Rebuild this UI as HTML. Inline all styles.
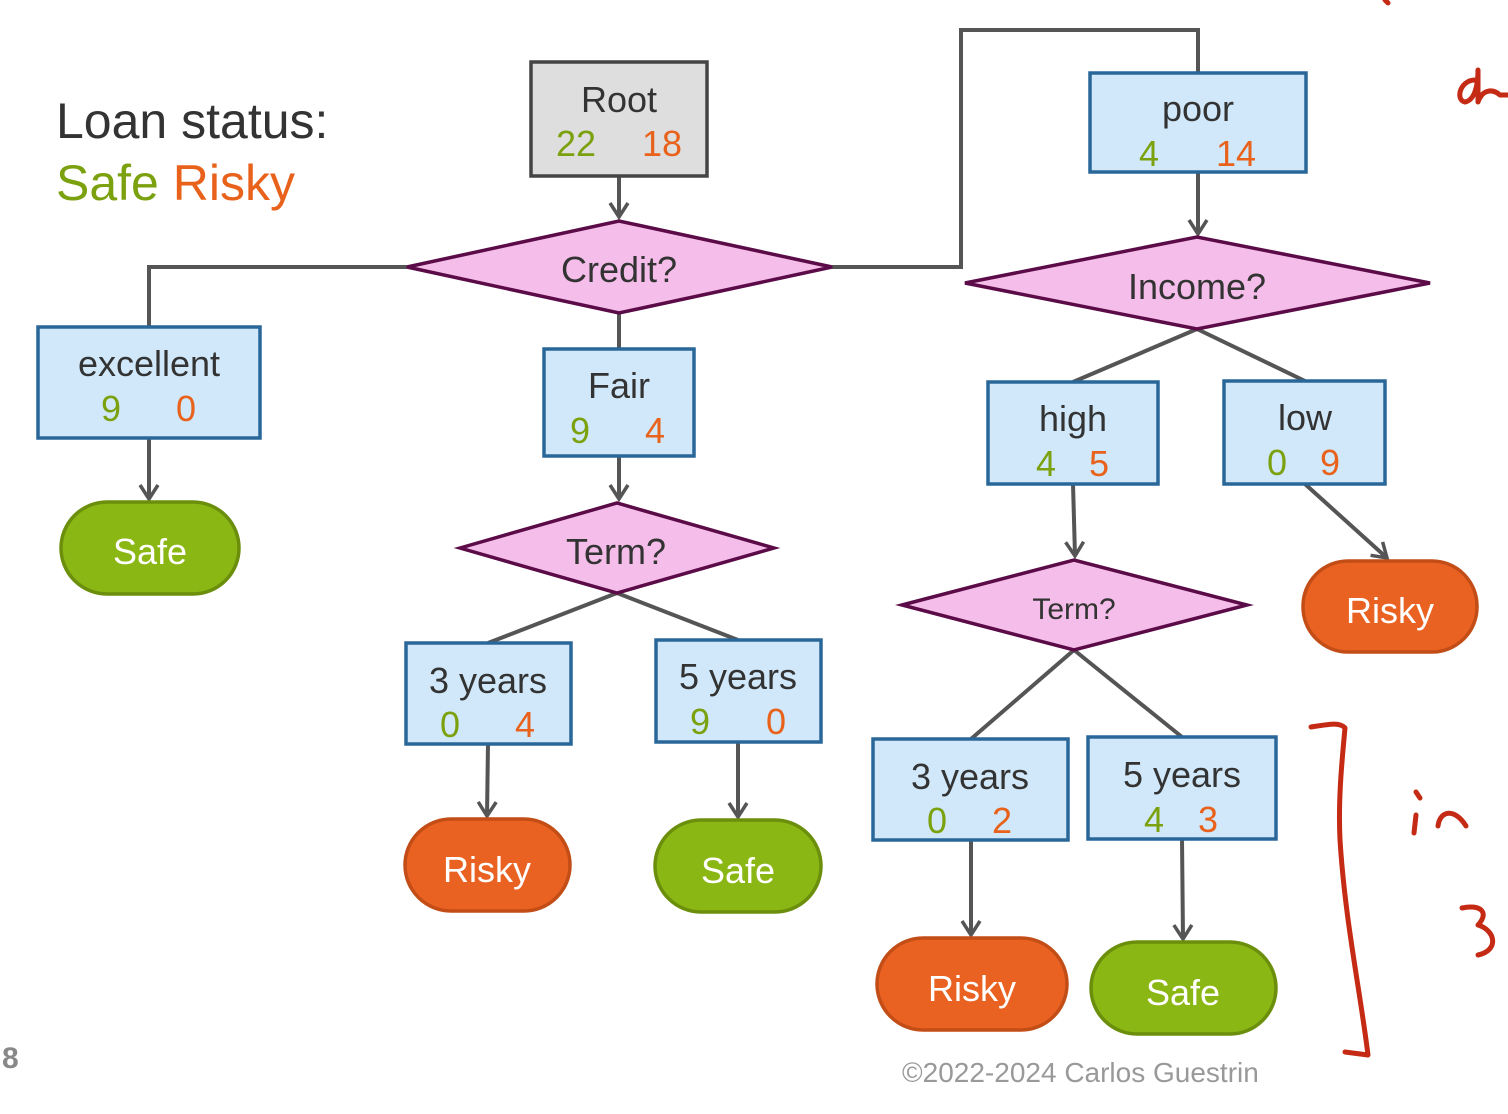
<!DOCTYPE html>
<html><head><meta charset="utf-8"><style>
html,body{margin:0;padding:0;background:#fff;}
svg{display:block;font-family:"Liberation Sans",sans-serif;}
</style></head><body>
<svg width="1508" height="1114" viewBox="0 0 1508 1114" xmlns="http://www.w3.org/2000/svg">
<defs>
<marker id="a" markerWidth="24" markerHeight="24" refX="20" refY="12" orient="auto" markerUnits="userSpaceOnUse">
<path d="M6,3 L20,12 L6,21" fill="none" stroke="#555" stroke-width="3.5"/>
</marker>
</defs>
<g stroke="#555" stroke-width="4" fill="none">
<line x1="619" y1="176" x2="619" y2="217" marker-end="url(#a)"/>
<polyline points="407,267 149,267 149,327"/>
<line x1="149" y1="438" x2="149" y2="499" marker-end="url(#a)"/>
<line x1="619" y1="313" x2="619" y2="349"/>
<line x1="619" y1="456" x2="619" y2="499" marker-end="url(#a)"/>
<polyline points="832,267 961,267 961,30 1198,30 1198,73"/>
<line x1="1198" y1="172" x2="1198" y2="234" marker-end="url(#a)"/>
<line x1="617" y1="593" x2="488" y2="643"/>
<line x1="617" y1="593" x2="738" y2="640"/>
<line x1="488" y1="744" x2="487" y2="816" marker-end="url(#a)"/>
<line x1="738" y1="742" x2="738" y2="817" marker-end="url(#a)"/>
<line x1="1197" y1="329" x2="1073" y2="382"/>
<line x1="1197" y1="329" x2="1305" y2="381"/>
<line x1="1073" y1="484" x2="1075" y2="556" marker-end="url(#a)"/>
<line x1="1305" y1="484" x2="1387" y2="558" marker-end="url(#a)"/>
<line x1="1074" y1="650" x2="971" y2="739"/>
<line x1="1074" y1="650" x2="1182" y2="737"/>
<line x1="971" y1="840" x2="971" y2="935" marker-end="url(#a)"/>
<line x1="1182" y1="839" x2="1183" y2="939" marker-end="url(#a)"/>
</g>
<g stroke-width="3.5">
<rect x="531" y="62" width="176" height="114" fill="#dedede" stroke="#444"/>
<g fill="#d0e8f9" stroke="#2a6799">
<rect x="38" y="327" width="222" height="111"/>
<rect x="544" y="349" width="150" height="107"/>
<rect x="1090" y="73" width="216" height="99"/>
<rect x="406" y="643" width="165" height="101"/>
<rect x="656" y="640" width="165" height="102"/>
<rect x="988" y="382" width="170" height="102"/>
<rect x="1224" y="381" width="161" height="103"/>
<rect x="873" y="739" width="195" height="101"/>
<rect x="1088" y="737" width="188" height="102"/>
</g>
<g fill="#f5bde9" stroke="#5b0b47">
<polygon points="407,267 619,221 832,267 619,313"/>
<polygon points="460,548 617,503 774,548 617,593"/>
<polygon points="965,283 1197,237 1430,283 1197,329"/>
<polygon points="902,605 1074,560 1247,605 1074,650"/>
</g>
<g fill="#8bb714" stroke="#6b8f0c">
<rect x="61" y="502" width="178" height="92" rx="46"/>
<rect x="655" y="820" width="166" height="92" rx="46"/>
<rect x="1091" y="942" width="185" height="92" rx="46"/>
</g>
<g fill="#ea6222" stroke="#c34d16">
<rect x="405" y="819" width="165" height="92" rx="46"/>
<rect x="1303" y="561" width="174" height="91" rx="45"/>
<rect x="877" y="938" width="190" height="92" rx="46"/>
</g>
</g>
<g font-size="36" fill="#333" text-anchor="middle">
<text x="619" y="112">Root</text>
<text x="149" y="376">excellent</text>
<text x="619" y="398">Fair</text>
<text x="1198" y="121">poor</text>
<text x="488" y="693">3 years</text>
<text x="738" y="689">5 years</text>
<text x="1073" y="431">high</text>
<text x="1305" y="430">low</text>
<text x="970" y="789">3 years</text>
<text x="1182" y="787">5 years</text>
<text x="619" y="282">Credit?</text>
<text x="616" y="564">Term?</text>
<text x="1197" y="299">Income?</text>
<text x="1074" y="619" font-size="30">Term?</text>
</g>
<g font-size="36" fill="#7ca10e" text-anchor="middle">
<text x="576" y="156">22</text><text x="111" y="421">9</text><text x="580" y="443">9</text>
<text x="1149" y="166">4</text><text x="450" y="737">0</text><text x="700" y="734">9</text>
<text x="1046" y="476">4</text><text x="1277" y="475">0</text><text x="937" y="833">0</text><text x="1154" y="832">4</text>
</g>
<g font-size="36" fill="#e8621c" text-anchor="middle">
<text x="662" y="156">18</text><text x="186" y="421">0</text><text x="655" y="443">4</text>
<text x="1236" y="166">14</text><text x="525" y="737">4</text><text x="776" y="734">0</text>
<text x="1099" y="476">5</text><text x="1330" y="475">9</text><text x="1002" y="833">2</text><text x="1208" y="832">3</text>
</g>
<g font-size="36" fill="#fff" text-anchor="middle">
<text x="150" y="564">Safe</text><text x="738" y="883">Safe</text><text x="1183" y="1005">Safe</text>
<text x="487" y="882">Risky</text><text x="1390" y="623">Risky</text><text x="972" y="1001">Risky</text>
</g>
<text x="56" y="138" font-size="50" fill="#333">Loan status:</text>
<text x="56" y="200" font-size="50" fill="#7ca10e">Safe <tspan fill="#e8621c">Risky</tspan></text>
<text x="902" y="1082" font-size="28" fill="#999">©2022-2024 Carlos Guestrin</text>
<text x="2" y="1068" font-size="30" fill="#888" font-weight="bold">8</text>
<g stroke="#c42a14" stroke-width="5" fill="none" stroke-linecap="round" stroke-linejoin="round">
<path d="M1311,727 C1330,724 1340,722 1345,728 C1342,760 1338,800 1340,840 C1345,920 1360,990 1368,1055 L1345,1052"/>
<path d="M1414,833 L1416,815 M1416,792 L1420,798 M1438,826 C1440,810 1455,808 1466,826"/>
<path d="M1462,908 C1480,904 1490,912 1478,925 C1495,930 1500,950 1478,955"/>
<path d="M1475,80 C1460,80 1455,100 1465,102 C1475,100 1478,85 1478,70 L1478,102 C1482,90 1492,88 1500,95 L1508,95"/>
<path d="M1385,0 L1388,3"/>
</g>
</svg>
</body></html>
